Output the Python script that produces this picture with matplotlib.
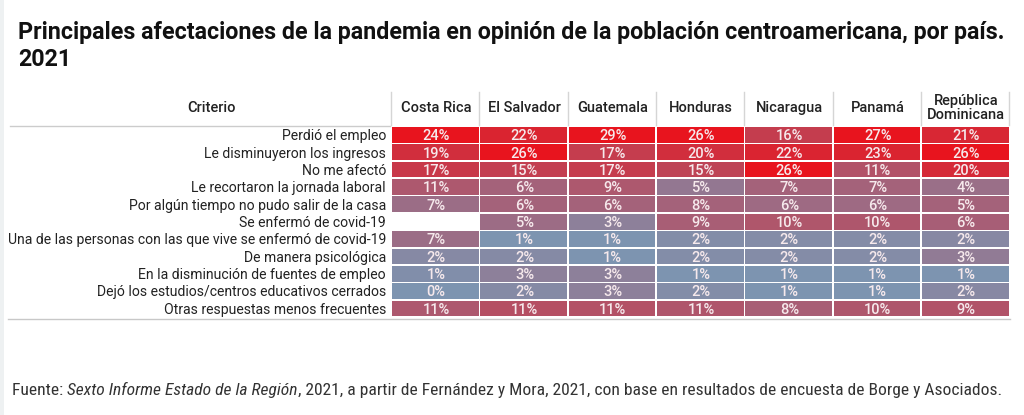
import numpy as np
import matplotlib.pyplot as plt
from matplotlib.colors import to_rgb
from matplotlib.patches import Rectangle
from matplotlib import font_manager

title = "Principales afectaciones de la pandemia en opinión de la población centroamericana, por país.\n2021"
source_lead = "Fuente: "
source_italic = "Sexto Informe Estado de la Región"
source_rest = ", 2021, a partir de Fernández y Mora, 2021, con base en resultados de encuesta de Borge y Asociados."

countries = ["Costa Rica", "El Salvador", "Guatemala", "Honduras", "Nicaragua", "Panamá", "República\nDominicana"]
criterios = [
    "Perdió el empleo",
    "Le disminuyeron los ingresos",
    "No me afectó",
    "Le recortaron la jornada laboral",
    "Por algún tiempo no pudo salir de la casa",
    "Se enfermó de covid-19",
    "Una de las personas con las que vive se enfermó de covid-19",
    "De manera psicológica",
    "En la disminución de fuentes de empleo",
    "Dejó los estudios/centros educativos cerrados",
    "Otras respuestas menos frecuentes",
]
costa_rica = [24, 19, 17, 11, 7, np.nan, 7, 2, 1, 0, 11]
el_salvador = [22, 26, 15, 6, 6, 5, 1, 2, 3, 2, 11]
guatemala = [29, 17, 17, 9, 6, 3, 1, 1, 3, 3, 11]
honduras = [26, 20, 15, 5, 8, 9, 2, 2, 1, 2, 11]
nicaragua = [16, 22, 26, 7, 6, 10, 2, 2, 1, 1, 8]
panama = [27, 23, 11, 7, 6, 10, 2, 2, 1, 1, 10]
rep_dom = [21, 26, 20, 4, 5, 6, 2, 3, 1, 2, 9]

table = np.array([costa_rica, el_salvador, guatemala, honduras, nicaragua, panama, rep_dom]).T

# three colour scale: low / median / high, per column
low_c, mid_c, high_c = "#7d94b0", "#a4627a", "#e8141e"


def cell_color(v, col):
    vals = col[~np.isnan(col)]
    lo, mid, hi = vals.min(), np.percentile(vals, 50), vals.max()
    if v <= mid:
        t = (v - lo) / (mid - lo) if mid > lo else 0
        a, b = np.array(to_rgb(low_c)), np.array(to_rgb(mid_c))
    else:
        t = (v - mid) / (hi - mid) if hi > mid else 1
        a, b = np.array(to_rgb(mid_c)), np.array(to_rgb(high_c))
    return tuple(a + (b - a) * t)


def find_font(names, weight=400, style="normal", stretch=None):
    best, best_d = None, 999
    for f in font_manager.fontManager.ttflist:
        if f.name in names and f.style == style:
            if stretch is not None and f.stretch != stretch:
                continue
            w = f.weight if isinstance(f.weight, int) else 400
            if abs(w - weight) < best_d:
                best, best_d = f, abs(w - weight)
    if best is None or best_d > 100:
        return None
    return font_manager.FontProperties(fname=best.fname)


def pick(cands, default_family, **kw):
    for names, extra in cands:
        fp = find_font(names, **extra)
        if fp is not None:
            return fp
    return font_manager.FontProperties(family=default_family, **kw)


bold_fp = pick([(["Roboto"], dict(weight=700)), (["Open Sans"], dict(weight=700)),
                (["Lato"], dict(weight=700))], "DejaVu Sans", weight="bold")
semi_fp = pick([(["Roboto"], dict(weight=500)), (["Open Sans"], dict(weight=600)),
                (["Lato"], dict(weight=700))], "DejaVu Sans", weight="bold")
reg_fp = pick([(["Roboto"], dict(weight=400)), (["Noto Sans"], dict(weight=400))], "DejaVu Sans")
narrow_fp = pick([(["Roboto Condensed"], dict(weight=400)),
                  (["Liberation Sans Narrow"], dict(weight=400)),
                  (["DejaVu Sans"], dict(weight=400, stretch="condensed"))], "DejaVu Sans")
narrow_it_fp = pick([(["Roboto Condensed"], dict(weight=400, style="italic")),
                     (["Liberation Sans Narrow"], dict(weight=400, style="italic")),
                     (["DejaVu Sans"], dict(weight=400, style="oblique", stretch="condensed"))],
                    "DejaVu Sans", style="italic")

W, H = 1024, 415
fig = plt.figure(figsize=(W / 100, H / 100), dpi=100)
ax = fig.add_axes([0, 0, 1, 1])
ax.set_xlim(0, W)
ax.set_ylim(H, 0)
ax.axis("off")
fig.canvas.draw()
rend = fig.canvas.get_renderer()


def fit(t, width):
    # scale font size so the text spans the given pixel width
    bb = t.get_window_extent(rend)
    t.set_fontsize(t.get_fontsize() * width / bb.width)


# left grey strip
ax.add_patch(Rectangle((0, 0), 4, H, color="#eef1f2", lw=0))

tl = ax.text(18, 39, title.split("\n")[0], fontproperties=bold_fp, fontsize=15,
             color="#111111", va="baseline")
fit(tl, 994)
ax.text(18, 66, title.split("\n")[1], fontproperties=bold_fp, fontsize=tl.get_fontsize(),
        color="#111111", va="baseline")

# table layout
x0, cw = 392, 88.3
y0, rh = 127, 17.36
gap = 1.6
head_top = 92

ax.text(212, 108, "Criterio", fontproperties=semi_fp, fontsize=10.5,
        ha="center", va="center", color="#222222")
ax.plot([10, x0 - 2], [126, 126], color="#cccccc", lw=1)

for j, name in enumerate(countries):
    cx = x0 + cw * (j + 0.5)
    ax.text(cx, 108, name, fontproperties=semi_fp, fontsize=10.5,
            ha="center", va="center", color="#222222", linespacing=0.95)
    ax.plot([x0 + cw * j - 1, x0 + cw * j - 1], [head_top, 125], color="#d5d5d5", lw=1)
ax.plot([x0 + cw * 7 - 1, x0 + cw * 7 - 1], [head_top, 125], color="#d5d5d5", lw=1)

lab_size = None
for i, crit in enumerate(criterios):
    cy = y0 + rh * (i + 0.5)
    t = ax.text(x0 - 6, cy + 0.5, crit, fontproperties=reg_fp, fontsize=10, ha="right",
                va="center", color="#222222")
    if i == 6:
        fit(t, 379)
        lab_size = t.get_fontsize()
    for j in range(len(countries)):
        v = table[i, j]
        if np.isnan(v):
            continue
        ax.add_patch(Rectangle((x0 + cw * j, y0 + rh * i), cw - gap, rh - gap,
                               color=cell_color(v, table[:, j]), lw=0))
        ax.text(x0 + cw * (j + 0.5), cy + 0.5, f"{int(v)}%", fontproperties=semi_fp,
                fontsize=10.5, ha="center", va="center", color="#f6e9ec")
for t in ax.texts:
    if t.get_ha() == "right":
        t.set_fontsize(lab_size)

ax.plot([8, x0 + cw * 7], [y0 + rh * 11 + 1.5, y0 + rh * 11 + 1.5], color="#c8c8c8", lw=1)

# source line, mixed italic
parts = [(source_lead, narrow_fp), (source_italic, narrow_it_fp), (source_rest, narrow_fp)]
size = 10.5
for attempt in range(2):
    xs = 12
    made = []
    for s, fp in parts:
        t = ax.text(xs, 390, s, fontproperties=fp, fontsize=size, va="center", color="#333333")
        xs = t.get_window_extent(rend).x1
        made.append(t)
    if attempt == 0:
        total = xs - 12
        for t in made:
            t.remove()
        size = size * 992 / total

fig.savefig("out.png", dpi=100, facecolor="white")
